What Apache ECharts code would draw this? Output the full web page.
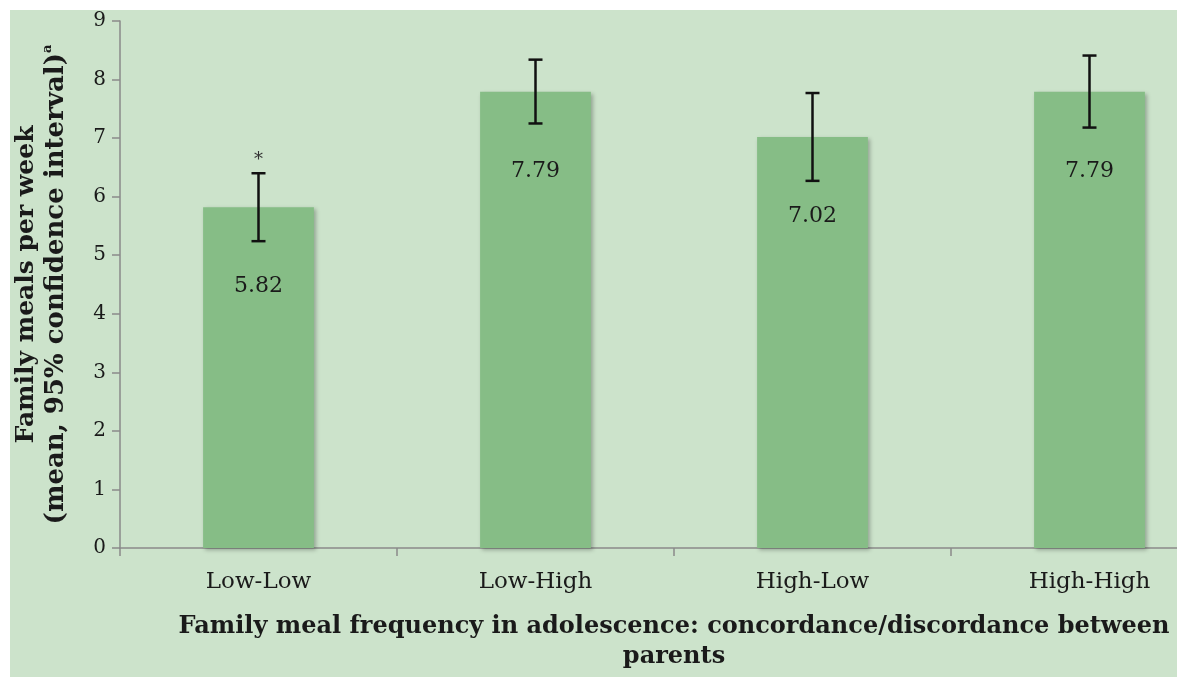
<!DOCTYPE html>
<html>
<head>
<meta charset="utf-8">
<script src="https://cdn.jsdelivr.net/npm/echarts@6/dist/echarts.min.js"></script>
<style>
  html, body { margin: 0; padding: 0; background: #ffffff; }
  #wrap { position: relative; width: 1177px; height: 677px; background: #ffffff; overflow: hidden; }
  #bg { position: absolute; left: 10px; top: 10px; width: 1167px; height: 667px; background: #cce3cb; }
  #chart { position: absolute; left: 0; top: 0; width: 1240px; height: 677px; }
</style>
</head>
<body>
<div id="wrap"><div id="bg"></div><div id="chart"></div></div>
<script>
const categories = ["Low-Low", "Low-High", "High-Low", "High-High"];
const means = [5.82, 7.79, 7.02, 7.79];
const ciLower = [5.24, 7.25, 6.27, 7.18];
const ciUpper = [6.40, 8.34, 7.77, 8.41];
const marks = ["*", "", "", ""];
const yTicks = [0, 1, 2, 3, 4, 5, 6, 7, 8, 9];

const serif = "DejaVu Serif";
const chart = echarts.init(document.getElementById('chart'), null, { renderer: 'canvas' });

const errData = categories.map((c, i) => [i, ciLower[i], ciUpper[i], marks[i]]);

chart.setOption({
  backgroundColor: 'transparent',
  animation: false,
  grid: { left: 120, top: 21, width: 1108, height: 532 },
  xAxis: {
    type: 'category',
    data: categories,
    axisLine: { lineStyle: { color: '#8a8a8a', width: 1.5 } },
    axisTick: { show: true, length: 8, alignWithLabel: false, lineStyle: { color: '#8a8a8a', width: 1.5 } },
    axisLabel: { color: '#1a1a1a', fontFamily: serif, fontSize: 23, margin: 23 },
    name: 'Family meal frequency in adolescence: concordance/discordance between\nparents',
    nameLocation: 'middle',
    nameGap: 64,
    nameTextStyle: { color: '#1a1a1a', fontFamily: serif, fontWeight: 'bold', fontSize: 24, lineHeight: 30 }
  },
  yAxis: {
    type: 'value',
    min: 0, max: 9, interval: 1,
    splitLine: { show: false },
    axisLine: { show: true, lineStyle: { color: '#8a8a8a', width: 1.5 } },
    axisTick: { show: true, length: 8, lineStyle: { color: '#8a8a8a', width: 1.5 } },
    axisLabel: {
      color: '#1a1a1a', fontFamily: serif, fontSize: 20, margin: 14,
      formatter: v => yTicks.indexOf(v) >= 0 ? String(v) : ''
    },
    name: '{b|Family meals per week}\n{c|(mean, 95% confidence interval)}{s|a}',
    nameLocation: 'middle',
    nameGap: 49,
    nameRotate: 90,
    nameTextStyle: {
      lineHeight: 30,
      rich: {
        b: { color: '#1a1a1a', fontFamily: serif, fontWeight: 'bold', fontSize: 25, lineHeight: 30 },
        c: { color: '#1a1a1a', fontFamily: serif, fontWeight: 'bold', fontSize: 26, lineHeight: 30 },
        s: { color: '#1a1a1a', fontFamily: serif, fontWeight: 'bold', fontSize: 13, lineHeight: 30, verticalAlign: 'top', padding: [0, 0, 8, 0] }
      }
    }
  },
  series: [
    {
      type: 'bar',
      data: means,
      barWidth: '40%',
      itemStyle: {
        color: '#86bd86',
        shadowColor: 'rgba(0,0,0,0.28)', shadowBlur: 4, shadowOffsetX: 2, shadowOffsetY: 2
      },
      label: {
        show: true,
        position: 'insideTop',
        distance: 68,
        color: '#1a1a1a',
        fontFamily: serif,
        fontSize: 22,
        formatter: p => p.value.toFixed(2)
      },
      z: 2
    },
    {
      type: 'custom',
      data: errData,
      z: 5,
      renderItem: function (params, api) {
        const x = api.coord([api.value(0), 0])[0];
        const lo = api.coord([api.value(0), api.value(1)])[1];
        const hi = api.coord([api.value(0), api.value(2)])[1];
        const cap = 7;
        const st = { stroke: '#111', lineWidth: 2.5 };
        const children = [
          { type: 'line', shape: { x1: x, y1: hi, x2: x, y2: lo }, style: st },
          { type: 'line', shape: { x1: x - cap, y1: hi, x2: x + cap, y2: hi }, style: st },
          { type: 'line', shape: { x1: x - cap, y1: lo, x2: x + cap, y2: lo }, style: st }
        ];
        const m = marks[params.dataIndex];
        if (m) {
          children.push({
            type: 'text',
            style: { text: m, x: x, y: hi - 4, align: 'center', verticalAlign: 'bottom', fill: '#333', font: '18px ' + serif }
          });
        }
        return { type: 'group', children: children };
      }
    }
  ]
});
</script>
</body>
</html>
